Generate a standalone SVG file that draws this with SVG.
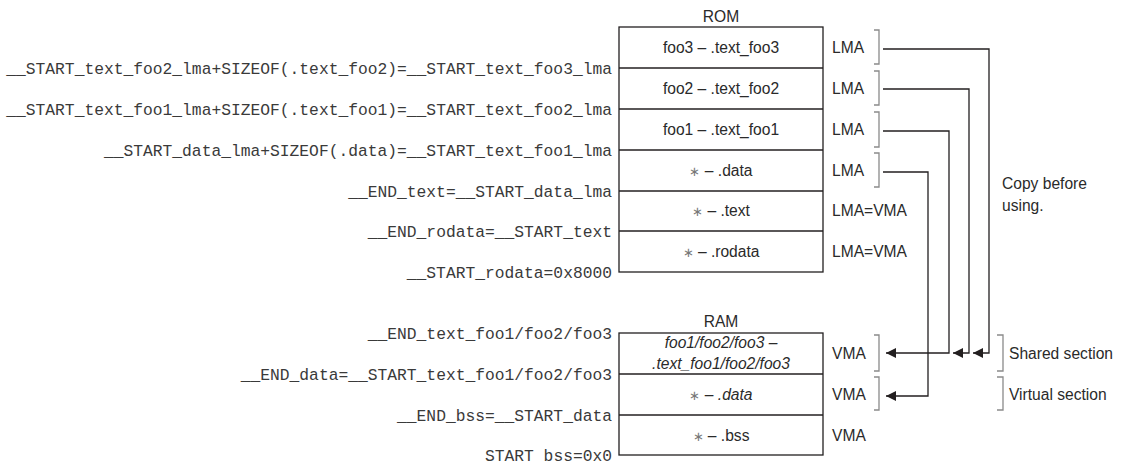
<svg xmlns="http://www.w3.org/2000/svg" width="1122" height="464" viewBox="0 0 1122 464">
<style>
.mono{font-family:"Liberation Mono","Courier New",monospace;font-size:16.3px;fill:#3a3a3a;text-anchor:end}
.sans{font-family:"Liberation Sans",Arial,sans-serif;font-size:15.6px;fill:#2a2a2a}
.c{text-anchor:middle}
.it{font-style:italic}
.ast{fill:#777;font-size:13px}
.box{fill:#fff;stroke:#231f20;stroke-width:1.3}
.br{fill:none;stroke:#8a8a8a;stroke-width:1.3}
.ln{fill:none;stroke:#231f20;stroke-width:1.3}
</style>
<defs>
<marker id="ah" viewBox="0 0 10 10" refX="10" refY="5" markerWidth="11" markerHeight="10" markerUnits="userSpaceOnUse" orient="auto">
<path d="M0,0 L10,5 L0,10 Z" fill="#231f20"/>
</marker>
</defs>

<g id="rom">
<text class="sans c" x="721" y="22">ROM</text>
<rect class="box" x="619" y="27" width="204" height="245"/>
<line class="ln" x1="619" y1="68" x2="823" y2="68"/>
<line class="ln" x1="619" y1="109" x2="823" y2="109"/>
<line class="ln" x1="619" y1="150" x2="823" y2="150"/>
<line class="ln" x1="619" y1="191" x2="823" y2="191"/>
<line class="ln" x1="619" y1="231" x2="823" y2="231"/>
<text class="sans c" x="721" y="53">foo3 – .text_foo3</text>
<text class="sans c" x="721" y="94">foo2 – .text_foo2</text>
<text class="sans c" x="721" y="135">foo1 – .text_foo1</text>
<text class="sans c" x="721" y="176"><tspan class="ast">∗</tspan> – .data</text>
<text class="sans c" x="721" y="216"><tspan class="ast">∗</tspan> – .text</text>
<text class="sans c" x="721" y="257"><tspan class="ast">∗</tspan> – .rodata</text>
<text class="sans" x="832" y="53">LMA</text>
<text class="sans" x="832" y="94">LMA</text>
<text class="sans" x="832" y="135">LMA</text>
<text class="sans" x="832" y="176">LMA</text>
<text class="sans" x="832" y="216">LMA=VMA</text>
<text class="sans" x="832" y="257">LMA=VMA</text>
<path class="br" d="M874,30 H879 V64 H874"/>
<path class="br" d="M874,71 H879 V105 H874"/>
<path class="br" d="M874,112 H879 V147 H874"/>
<path class="br" d="M874,153 H879 V187 H874"/>
</g>

<g id="ram">
<text class="sans c" x="721" y="327">RAM</text>
<rect class="box" x="619" y="333" width="204" height="122"/>
<line class="ln" x1="619" y1="374" x2="823" y2="374"/>
<line class="ln" x1="619" y1="415" x2="823" y2="415"/>
<text class="sans c it" x="721" y="348">foo1/foo2/foo3 –</text>
<text class="sans c it" x="721" y="369">.text_foo1/foo2/foo3</text>
<text class="sans c" x="721" y="400"><tspan class="ast">∗</tspan> – <tspan class="it">.data</tspan></text>
<text class="sans c" x="721" y="441"><tspan class="ast">∗</tspan> – .bss</text>
<text class="sans" x="832" y="359">VMA</text>
<text class="sans" x="832" y="400">VMA</text>
<text class="sans" x="832" y="441">VMA</text>
<path class="br" d="M874,335 H879 V371 H874"/>
<path class="br" d="M874,377 H879 V410 H874"/>
</g>

<g id="left-labels">
<text class="mono" x="612" y="74">__START_text_foo2_lma+SIZEOF(.text_foo2)=__START_text_foo3_lma</text>
<text class="mono" x="612" y="115">__START_text_foo1_lma+SIZEOF(.text_foo1)=__START_text_foo2_lma</text>
<text class="mono" x="612" y="156">__START_data_lma+SIZEOF(.data)=__START_text_foo1_lma</text>
<text class="mono" x="612" y="197">__END_text=__START_data_lma</text>
<text class="mono" x="612" y="237">__END_rodata=__START_text</text>
<text class="mono" x="612" y="278">__START_rodata=0x8000</text>
<text class="mono" x="612" y="339">__END_text_foo1/foo2/foo3</text>
<text class="mono" x="612" y="380">__END_data=__START_text_foo1/foo2/foo3</text>
<text class="mono" x="612" y="421">__END_bss=__START_data</text>
<text class="mono" x="612" y="461">START bss=0x0</text>
</g>

<g id="connectors">
<path class="ln" d="M883,49 H989 V353 H973" marker-end="url(#ah)"/>
<path class="ln" d="M883,89 H969 V353 H953" marker-end="url(#ah)"/>
<path class="ln" d="M883,131 H949 V353 H886" marker-end="url(#ah)"/>
<path class="ln" d="M883,172 H928 V396 H886" marker-end="url(#ah)"/>
</g>

<g id="notes">
<text class="sans" x="1002" y="189">Copy before</text>
<text class="sans" x="1002" y="211">using.</text>
<path class="br" d="M997,335 H1003 V371 H997"/>
<text class="sans" x="1009" y="359">Shared section</text>
<path class="br" d="M997,377 H1003 V410 H997"/>
<text class="sans" x="1009" y="400">Virtual section</text>
</g>
</svg>
